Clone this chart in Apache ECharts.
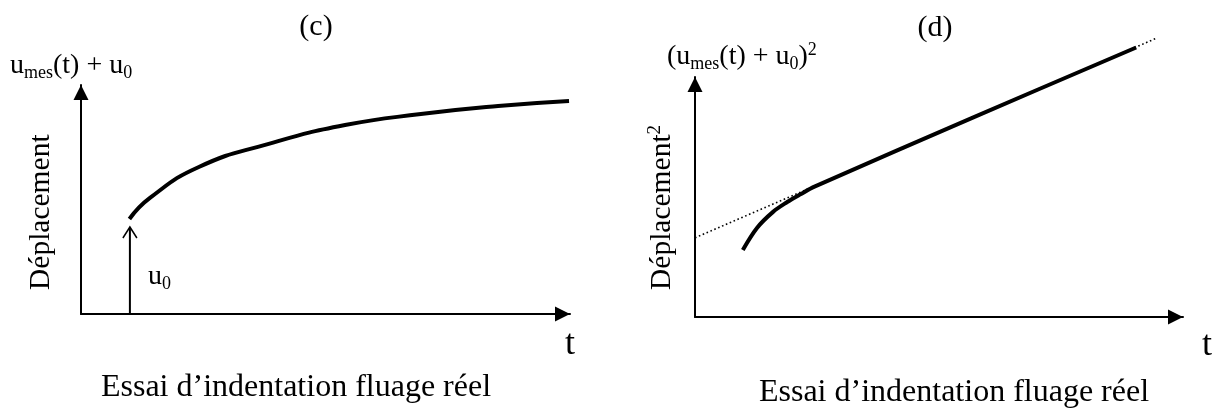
<!DOCTYPE html>
<html><head><meta charset="utf-8">
<script src="https://cdn.jsdelivr.net/npm/echarts@6/dist/echarts.min.js"></script>
<style>html,body{margin:0;padding:0;background:#fff}#c{width:1213px;height:411px}</style>
</head><body><div id="c"></div>
<script>
// ---- Data (arbitrary units, axes 0..100) ----
// Panel (c): u_mes(t) + u0 versus t
const curveC_t = [9.9, 14.1, 24.1, 38.2, 54.0, 69.5, 85.3, 99.8];
const curveC_u = [41.5, 50.7, 64.2, 74.2, 82.5, 87.3, 90.8, 93.0];
// u0 offset arrow in panel (c)
const u0Arrow_t = [10.0];
const u0Arrow_top = [38.0];
// Panel (d): (u_mes(t) + u0)^2 versus t
const curveD_t = [9.8, 12.7, 16.0, 18.9, 21.5, 24.6, 57.4, 90.4];
const curveD_u2 = [27.9, 37.1, 43.8, 47.9, 51.0, 54.4, 83.5, 112.3];
// dotted linear asymptote in panel (d)
const tangentD_t = [0, 94.7];
const tangentD_u2 = [33.0, 116.3];
// text
const panelTitles = ['(c)', '(d)'];
const xAxisNames = ['t', 't'];
const captions = ['Essai d\u2019indentation fluage r\u00e9el', 'Essai d\u2019indentation fluage r\u00e9el'];

const zip = (a, b) => a.map((v, i) => [v, b[i]]);
const FONT = '"Liberation Serif", "Times New Roman", serif';

const chart = echarts.init(document.getElementById('c'), null, {renderer: 'canvas'});

function axisBase(gridIndex) {
  return {
    type: 'value', gridIndex, min: 0, max: 100,
    axisLabel: {show: false}, axisTick: {show: false}, splitLine: {show: false},
    axisLine: {show: true, onZero: false, symbol: ['none', 'triangle'], symbolSize: [15, 15], symbolOffset: [0, -7.5],
      lineStyle: {color: '#000', width: 2}}
  };
}

const mainRich = {
  m: {fontSize: 28, fontFamily: FONT, color: '#000', lineHeight: 32},
  s: {fontSize: 18, fontFamily: FONT, color: '#000', lineHeight: 18, verticalAlign: 'bottom'},
  p: {fontSize: 18, fontFamily: FONT, color: '#000', lineHeight: 18, verticalAlign: 'top'},
  d: {fontSize: 29.5, fontFamily: FONT, color: '#000', lineHeight: 32},
  q: {fontSize: 19, fontFamily: FONT, color: '#000', lineHeight: 19, verticalAlign: 'top'}
};

function text(x, y, str, size, align, extra) {
  return Object.assign({
    type: 'text', x, y, silent: true,
    style: {text: str, fill: '#000', fontSize: size, fontFamily: FONT, align: align || 'center', verticalAlign: 'middle', rich: mainRich}
  }, extra || {});
}

const option = {
  backgroundColor: '#fff',
  animation: false,
  grid: [
    {left: 81, top: 85, width: 489, height: 229},
    {left: 695, top: 77, width: 488, height: 240}
  ],
  xAxis: [axisBase(0), axisBase(1)],
  yAxis: [axisBase(0), axisBase(1)],
  series: [
    {
      type: 'line', xAxisIndex: 0, yAxisIndex: 0, data: zip(curveC_t, curveC_u),
      smooth: 0.5, showSymbol: false, clip: false,
      lineStyle: {color: '#000', width: 4, cap: 'butt'}, itemStyle: {color: '#000'}
    },
    {
      type: 'custom', xAxisIndex: 0, yAxisIndex: 0, clip: false,
      data: zip(u0Arrow_t, u0Arrow_top),
      renderItem: function (params, api) {
        const t = api.value(0), top = api.value(1);
        const p0 = api.coord([t, 0]);
        const p1 = api.coord([t, top]);
        return {
          type: 'group', children: [
            {type: 'line', shape: {x1: p0[0], y1: p0[1], x2: p1[0], y2: p1[1] + 1}, style: {stroke: '#000', lineWidth: 2}},
            {type: 'polyline', shape: {points: [[p1[0] - 7, p1[1] + 11], [p1[0], p1[1]], [p1[0] + 7, p1[1] + 11]]},
              style: {stroke: '#000', lineWidth: 1.5, fill: null}}
          ]
        };
      }
    },
    {
      type: 'line', xAxisIndex: 1, yAxisIndex: 1, data: zip(tangentD_t, tangentD_u2),
      showSymbol: false, clip: false,
      lineStyle: {color: '#000', width: 1.6, type: [1.6, 2.6]}
    },
    {
      type: 'line', xAxisIndex: 1, yAxisIndex: 1, data: zip(curveD_t, curveD_u2),
      smooth: 0.35, showSymbol: false, clip: false,
      lineStyle: {color: '#000', width: 4, cap: 'butt'}
    }
  ],
  graphic: [
    text(316, 27, panelTitles[0], 30),
    text(935, 28, panelTitles[1], 30),
    text(10, 66, '{m|u}{s|mes}{m|(t) + u}{s|0}', 28, 'left'),
    text(667, 57, '{m|(u}{s|mes}{m|(t) + u}{s|0}{m|)}{p|2}', 28, 'left'),
    text(148, 277, '{m|u}{s|0}', 28, 'left'),
    text(570, 345, xAxisNames[0], 36),
    text(1207, 346, xAxisNames[1], 36),
    text(296, 388, captions[0], 32),
    text(954, 393, captions[1], 32),
    text(41, 290, '{d|D\u00e9placement}', 29.5, 'left', {rotation: Math.PI / 2}),
    text(662, 290, '{d|D\u00e9placement}{q|2}', 29.5, 'left', {rotation: Math.PI / 2})
  ]
};
chart.setOption(option);
</script>
</body></html>
